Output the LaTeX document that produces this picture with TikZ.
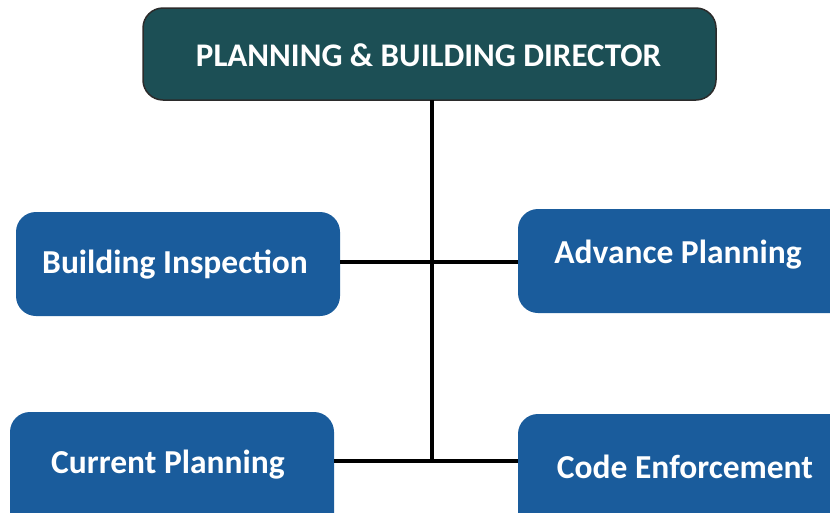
\documentclass[tikz,border=0pt]{standalone}
\usepackage{fontspec}
\setmainfont{Carlito}
\definecolor{topfill}{HTML}{1C4F55}
\definecolor{topdraw}{HTML}{2B2B2B}
\definecolor{boxfill}{HTML}{1A5C9C}
\begin{document}
\begin{tikzpicture}[x=1pt,y=-1pt,
  topbox/.style={draw=topdraw,line width=1.5pt,fill=topfill,rounded corners=20pt},
  unitbox/.style={fill=boxfill,rounded corners=20pt},
  lbl/.style={text=white,font=\fontsize{33.5}{38}\selectfont\bfseries,inner sep=0pt},
  conn/.style={line width=3.6pt,black}]
\useasboundingbox (0,0) rectangle (830,512);
\clip (0,0) rectangle (830,512);
% boxes
\draw[topbox] (143,8) rectangle (716,100);
\node[lbl,font=\fontsize{33}{38}\selectfont\bfseries] (top) at (428.5,55) {PLANNING \& BUILDING DIRECTOR};
\coordinate (topb) at (432,100);
\fill[unitbox] (16,212) rectangle (340,316);
\node[lbl] (bi) at (175,265) {Building Inspection};
\coordinate (bir) at (340,262);
\fill[unitbox] (518,209) rectangle (860,313);
\node[lbl] (ap) at (678,255) {Advance Planning};
\coordinate (apl) at (518,262);
\fill[unitbox] (10,412) rectangle (334,540);
\node[lbl] (cp) at (168,465) {Current Planning};
\coordinate (cpr) at (334,461);
\fill[unitbox] (518,414) rectangle (860,540);
\node[lbl] (ce) at (685,467) {Code Enforcement};
\coordinate (cel) at (518,461);
% connectors
\coordinate (mid1) at (432,262);
\coordinate (mid2) at (432,461);
\draw[conn] (topb) -- (mid2);
\draw[conn] (bir) -- (apl);
\draw[conn] (cpr) -- (cel);
\end{tikzpicture}
\end{document}
